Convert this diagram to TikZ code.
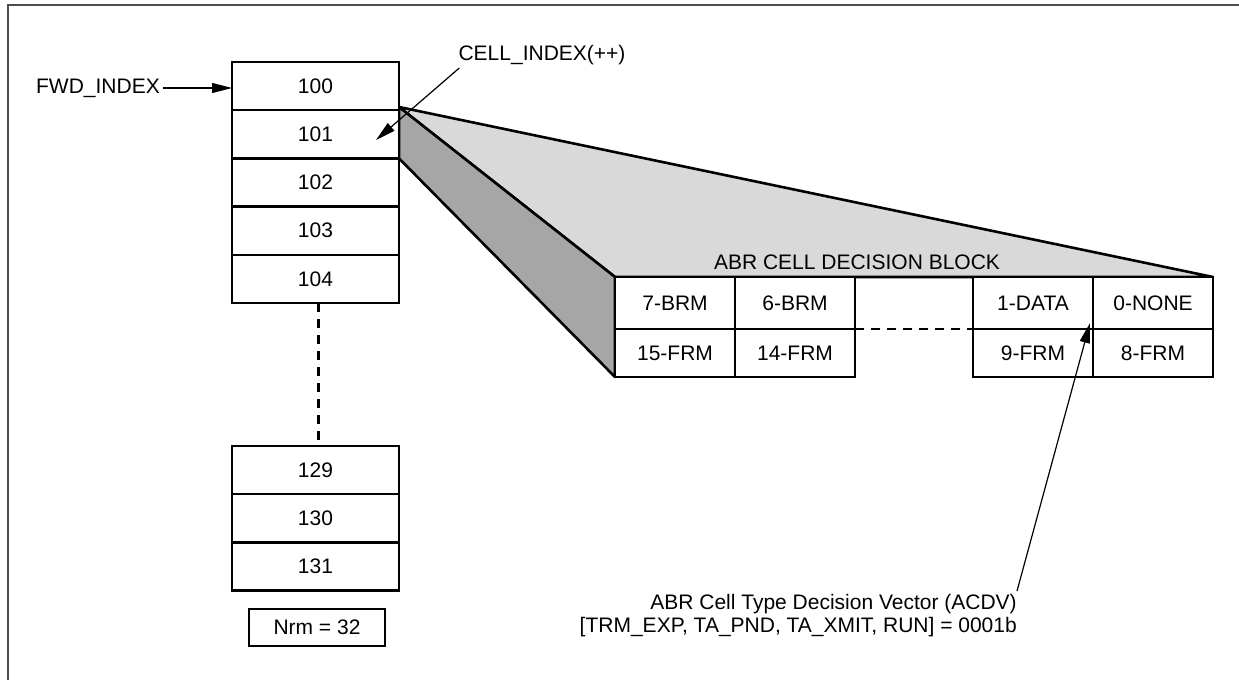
\documentclass[tikz,border=0pt]{standalone}
\usepackage{fontspec}
\setmainfont{Liberation Sans}
\usepackage{tikz}
\usetikzlibrary{arrows.meta,positioning,backgrounds}
\definecolor{abrframe}{HTML}{4D4D4D}
\definecolor{abrtop}{HTML}{D9D9D9}
\definecolor{abrside}{HTML}{A6A6A6}
\tikzset{
  txt/.style   = {font=\fontsize{21}{23}\selectfont, inner sep=3pt},
  cell/.style  = {draw, fill=white, line width=2.4pt, outer sep=0pt, txt,
                  minimum width=167pt, minimum height=48.2pt},
  bcell/.style = {cell, minimum width=120pt, minimum height=48pt},
  bcelltop/.style = {bcell, minimum height=52pt, text depth=-4pt},
  nrmbox/.style = {draw, line width=2.4pt, txt,
                  minimum width=136pt, minimum height=37pt},
  ptr/.style   = {-{Triangle[length=20pt,width=10pt]}, line width=1.2pt},
  gap/.style   = {line width=2.6pt, dash pattern=on 9pt off 7pt},
  face/.style  = {draw, line width=2.6pt, line join=round},
}

\begin{document}
\begin{tikzpicture}[x=1pt, y=-1pt]
  \useasboundingbox (0,0) rectangle (1239,680);

  % ---------- frame ----------------------------------------------------
  \draw[abrframe, line width=2pt] (1239,5) -- (8,5) -- (8,680);

  % ---------- cell index column ----------------------------------------
  \node[cell] (c100) at (315.5,86.1) {100};
  \node[cell, below=0pt of c100] (c101) {101};
  \node[cell, below=0pt of c101] (c102) {102};
  \node[cell, below=0pt of c102] (c103) {103};
  \node[cell, below=0pt of c103] (c104) {104};

  \node[cell] (c129) at (315.5,470.1) {129};
  \node[cell, below=0pt of c129] (c130) {130};
  \node[cell, below=0pt of c130] (c131) {131};

  \node[nrmbox] (nrm) at (317,627.5) {Nrm = 32};

  \draw[gap] ([xshift=3pt]c104.south) -- ([xshift=3pt]c129.north);

  % ---------- decision block -------------------------------------------
  \node[bcelltop] (b7) at (675,303) {7-BRM};
  \node[bcelltop, right=0pt of b7] (b6) {6-BRM};
  \node[bcell, below=0pt of b7] (b15) {15-FRM};
  \node[bcell, right=0pt of b15] (b14) {14-FRM};

  \node[bcelltop] (b1) at (1033,303) {1-DATA};
  \node[bcelltop, right=0pt of b1] (b0) {0-NONE};
  \node[bcell, below=0pt of b1] (b9) {9-FRM};
  \node[bcell, right=0pt of b9] (b8) {8-FRM};

  \draw[gap] (b6.south east) -- (b1.south west);

  \node[txt] (title) at (857,262) {ABR CELL DECISION BLOCK};

  \coordinate (apex) at (399,107);
  \begin{scope}[on background layer]
    \draw[face, fill=abrtop] (apex) -- (b7.north west) -- (b0.north east)
      -- cycle;
    \draw[face, fill=abrside] (apex) -- (b7.north west) -- (b15.south west)
      -- (c101.south east) -- cycle;
  \end{scope}

  % ---------- labels and pointers --------------------------------------
  \node[txt, anchor=east] (fwd) at (163,88) {FWD\_INDEX};
  \draw[ptr] (fwd.east) -- (fwd.east -| c100.west);

  \node[txt] (cidx) at (542,55) {CELL\_INDEX(++)};
  \coordinate (cidxtip) at (376,140);
  \draw[ptr] ([xshift=4pt]cidx.south west) -- (cidxtip);

  \node[txt, anchor=north east, align=right] (acdv) at (1020,591)
    {ABR Cell Type Decision Vector (ACDV)\\
     {[}TRM\_EXP, TA\_PND, TA\_XMIT, RUN{]} = 0001b};
  \coordinate (acdvtip) at (1090,323);
  \draw[ptr] ([xshift=-3pt]acdv.north east) -- (acdvtip);

\end{tikzpicture}
\end{document}
